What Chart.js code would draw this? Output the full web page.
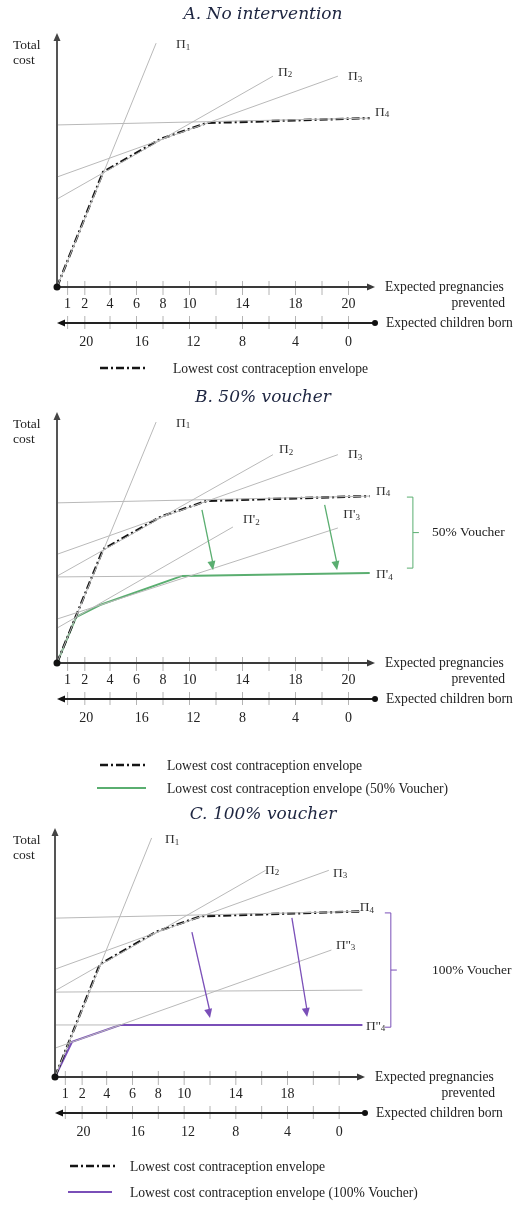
<!DOCTYPE html>
<html lang="en">
<head>
<meta charset="UTF-8">
<title>Lowest cost contraception envelope</title>
<script src="https://cdn.jsdelivr.net/npm/chart.js@4.4.0/dist/chart.umd.min.js"></script>
<style>
  html, body { margin: 0; padding: 0; background: #fff; }
  canvas { display: block; }
</style>
</head>
<body>
<canvas id="panelA" width="514" height="385"></canvas>
<canvas id="panelB" width="514" height="415"></canvas>
<canvas id="panelC" width="514" height="405"></canvas>
<script>
// tick marks shared by both bottom axes (axis units, 0..12)
const tickMarks = [0.4, 1.05, 2, 3, 4, 5, 6, 7, 8, 9, 10, 11];
const pregnancyPos = [0.4, 1.05, 2, 3, 4, 5, 7, 9, 11];
const pregnancyLabels = ['1', '2', '4', '6', '8', '10', '14', '18', '20'];
const childrenPos = [1.1, 3.2, 5.15, 7, 9, 11];
const childrenLabels = ['20', '16', '12', '8', '4', '0'];

// total cost of each method, no intervention
const pi1 = [{x: 0, y: 0}, {x: 3.74, y: 9.6}];
const pi2 = [{x: 0, y: 3.46}, {x: 8.15, y: 8.3}];
const pi3 = [{x: 0, y: 4.33}, {x: 10.6, y: 8.3}];
const pi4 = [{x: 0, y: 6.38}, {x: 11.8, y: 6.65}];
const envelope = [{x: 0, y: 0}, {x: 1.74, y: 4.53}, {x: 3.92, y: 5.83}, {x: 5.66, y: 6.46}, {x: 11.8, y: 6.65}];

// 50% voucher
const pi2Half = [{x: 0, y: 1.39}, {x: 6.64, y: 5.42}];
const pi3Half = [{x: 0, y: 1.75}, {x: 10.6, y: 5.38}];
const pi4Half = [{x: 0, y: 3.43}, {x: 4.72, y: 3.47}];
const envelopeHalf = [{x: 0, y: 0}, {x: 0.72, y: 1.83}, {x: 1.62, y: 2.31}, {x: 4.72, y: 3.47}, {x: 11.8, y: 3.59}];
const shiftHalf = [[{x: 5.47, y: 6.1}, {x: 5.89, y: 3.7}], [{x: 10.1, y: 6.3}, {x: 10.57, y: 3.7}]];

// 100% voucher
const pi4HalfFull = [{x: 0, y: 3.41}, {x: 11.9, y: 3.49}];
const pi3Free = [{x: 0, y: 1.16}, {x: 10.7, y: 5.1}];
const pi4Free = [{x: 0, y: 2.09}, {x: 2.52, y: 2.09}];
const envelopeFree = [{x: 0, y: 0}, {x: 0.66, y: 1.41}, {x: 2.52, y: 2.09}, {x: 11.9, y: 2.09}];
const shiftFree = [[{x: 5.3, y: 5.82}, {x: 6.0, y: 2.37}], [{x: 9.17, y: 6.39}, {x: 9.76, y: 2.41}]];

const GREEN = '#5aae70';
const PURPLE = '#7a4fb8';
const SERIF = '"Liberation Serif", "Times New Roman", serif';
const DASHDOT = [8, 3, 2, 3];

const gray = data => ({data, borderColor: '#b9b9b9', borderWidth: 1});
const dashDot = data => ({data, borderColor: '#151515', borderWidth: 2.4, borderDash: DASHDOT});
const solid = (data, color) => ({data, borderColor: color, borderWidth: 2});

function line(ctx, x0, y0, x1, y1) {
  ctx.beginPath(); ctx.moveTo(x0, y0); ctx.lineTo(x1, y1); ctx.stroke();
}

// filled arrow head at (x1, y1) pointing away from (x0, y0)
function head(ctx, x0, y0, x1, y1, len, half) {
  const ang = Math.atan2(y1 - y0, x1 - x0);
  ctx.beginPath();
  ctx.moveTo(x1, y1);
  ctx.lineTo(x1 - len * Math.cos(ang) + half * Math.sin(ang), y1 - len * Math.sin(ang) - half * Math.cos(ang));
  ctx.lineTo(x1 - len * Math.cos(ang) - half * Math.sin(ang), y1 - len * Math.sin(ang) + half * Math.cos(ang));
  ctx.closePath(); ctx.fill();
}

function piLabel(ctx, x, y, primes, sub) {
  ctx.fillStyle = '#333';
  ctx.textAlign = 'left'; ctx.textBaseline = 'middle';
  ctx.font = '13.5px ' + SERIF;
  const txt = '\u03A0' + primes;
  ctx.fillText(txt, x, y);
  const w = ctx.measureText(txt).width;
  ctx.font = '9px ' + SERIF;
  ctx.fillText(sub, x + w, y + 3);
}

function makeDiagram(p) {
  return {
    id: 'diagram',
    afterDatasetsDraw(chart) {
      const {ctx, chartArea: a, scales: {x, y}} = chart;
      const px = v => x.getPixelForValue(v), py = v => y.getPixelForValue(v);
      ctx.save();

      // panel heading
      ctx.font = 'italic 17px "DejaVu Serif", serif';
      ctx.fillStyle = '#1d2540';
      ctx.textAlign = 'center'; ctx.textBaseline = 'middle';
      ctx.fillText(p.title, 263, p.titleY);

      // downward shift of the envelope
      ctx.strokeStyle = p.color; ctx.fillStyle = p.color; ctx.lineWidth = 1.3;
      (p.shifts || []).forEach(([s, e]) => {
        const x0 = px(s.x), y0 = py(s.y), x1 = px(e.x), y1 = py(e.y);
        line(ctx, x0, y0, x1, y1 - 6);
        head(ctx, x0, y0, x1, y1, 9, 4);
      });

      // voucher brace
      if (p.bracket) {
        const b = p.bracket, bx = px(b.x), t = py(b.top), bt = py(b.bottom), m = (t + bt) / 2;
        ctx.lineWidth = 1;
        ctx.beginPath();
        ctx.moveTo(bx - 6, t); ctx.lineTo(bx, t); ctx.lineTo(bx, bt); ctx.lineTo(bx - 6, bt);
        ctx.moveTo(bx, m); ctx.lineTo(bx + 6, m);
        ctx.stroke();
        ctx.fillStyle = '#222'; ctx.font = '13.5px ' + SERIF;
        ctx.textAlign = 'left'; ctx.textBaseline = 'middle';
        ctx.fillText(b.text, 432, m);
      }

      p.labels.forEach(l => piLabel(ctx, px(l.x), py(l.y), l.primes || '', l.sub));

      // axes
      const ax = a.bottom, ax2 = a.bottom + 36;
      ctx.strokeStyle = '#b4b4b4'; ctx.lineWidth = 1;
      tickMarks.forEach(v => {
        line(ctx, px(v), ax - 6, px(v), ax + 8);
        line(ctx, px(v), ax2 - 7, px(v), ax2 + 6);
      });
      ctx.strokeStyle = '#555'; ctx.fillStyle = '#444'; ctx.lineWidth = 2;
      line(ctx, a.left, a.bottom, a.left, a.top + 6);
      head(ctx, a.left, a.bottom, a.left, a.top, 8, 3.5);
      ctx.strokeStyle = '#3a3a3a'; ctx.fillStyle = '#3a3a3a';
      line(ctx, a.left, ax, a.right - 6, ax);
      head(ctx, a.left, ax, a.right, ax, 8, 3.5);
      ctx.fillStyle = '#111'; ctx.strokeStyle = '#222';
      line(ctx, a.left + 6, ax2, a.right, ax2);
      head(ctx, a.right, ax2, a.left, ax2, 8, 3.5);
      ctx.beginPath(); ctx.arc(a.right, ax2, 3, 0, Math.PI * 2); ctx.fill();
      ctx.beginPath(); ctx.arc(a.left, ax, 3.5, 0, Math.PI * 2); ctx.fill();

      ctx.fillStyle = '#222';
      ctx.font = '14px ' + SERIF;
      ctx.textAlign = 'center'; ctx.textBaseline = 'middle';
      p.topLabels.forEach((t, i) => ctx.fillText(t, px(pregnancyPos[i]), ax + 17));
      childrenLabels.forEach((t, i) => ctx.fillText(t, px(childrenPos[i]), ax + 55));

      ctx.font = '13.6px ' + SERIF;
      ctx.textAlign = 'left';
      ctx.fillText('Expected pregnancies', a.right + 10, ax);
      ctx.fillText('Expected children born', a.right + 11, ax2);
      ctx.textAlign = 'right';
      ctx.fillText('prevented', a.right + 130, ax + 16);
      ctx.textAlign = 'left';
      ctx.font = '13.5px ' + SERIF;
      ctx.fillText('Total', 13, a.top + 12);
      ctx.fillText('cost', 13, a.top + 27);

      // key
      p.legend.forEach(k => {
        ctx.strokeStyle = k.color; ctx.lineWidth = k.dash ? 2.4 : 2;
        ctx.setLineDash(k.dash ? DASHDOT : []);
        line(ctx, k.x0, k.y, k.x1, k.y);
        ctx.setLineDash([]);
        ctx.fillStyle = '#222'; ctx.font = '13.6px ' + SERIF;
        ctx.fillText(k.text, k.textX, k.y + 1);
      });
      ctx.restore();
    }
  };
}

function draw(id, padding, datasets, panel) {
  new Chart(document.getElementById(id), {
    type: 'line',
    data: {datasets},
    options: {
      responsive: false,
      animation: false,
      layout: {padding},
      scales: {
        x: {type: 'linear', min: 0, max: 12, display: false},
        y: {type: 'linear', min: 0, max: 10, display: false}
      },
      elements: {point: {radius: 0}, line: {tension: 0}},
      plugins: {legend: {display: false}, tooltip: {enabled: false}}
    },
    plugins: [makeDiagram(panel)]
  });
}

const envText = 'Lowest cost contraception envelope';

draw('panelA', {left: 57, top: 33, right: 139, bottom: 98},
  [gray(pi1), gray(pi2), gray(pi3), gray(pi4), dashDot(envelope)],
  {
    title: 'A. No intervention', titleY: 15, color: '#111',
    labels: [{x: 4.49, y: 9.53, sub: '1'}, {x: 8.34, y: 8.46, sub: '2'}, {x: 10.98, y: 8.27, sub: '3'}, {x: 12.0, y: 6.89, sub: '4'}],
    topLabels: pregnancyLabels,
    legend: [{y: 368, x0: 100, x1: 148, dash: true, color: '#151515', textX: 173, text: envText}]
  });

draw('panelB', {left: 57, top: 27, right: 139, bottom: 137},
  [gray(pi1), gray(pi2), gray(pi3), gray(pi4), gray(pi2Half), gray(pi3Half), gray(pi4Half),
   dashDot(envelope), solid(envelopeHalf, GREEN)],
  {
    title: 'B. 50% voucher', titleY: 13, color: GREEN,
    shifts: shiftHalf,
    bracket: {x: 13.43, top: 6.61, bottom: 3.78, text: '50% Voucher'},
    labels: [{x: 4.49, y: 9.56, sub: '1'}, {x: 8.38, y: 8.49, sub: '2'}, {x: 10.98, y: 8.29, sub: '3'}, {x: 12.04, y: 6.85, sub: '4'},
             {x: 7.02, y: 5.7, primes: "'", sub: '2'}, {x: 10.8, y: 5.9, primes: "'", sub: '3'}, {x: 12.04, y: 3.51, primes: "'", sub: '4'}],
    topLabels: pregnancyLabels,
    legend: [{y: 380, x0: 100, x1: 148, dash: true, color: '#151515', textX: 167, text: envText},
             {y: 403, x0: 97, x1: 146, color: GREEN, textX: 167, text: envText + ' (50% Voucher)'}]
  });

draw('panelC', {left: 55, top: 28, right: 149, bottom: 128},
  [gray(pi1), gray(pi2), gray(pi3), gray(pi4), gray(pi4HalfFull), gray(pi3Free), gray(pi4Free),
   dashDot(envelope), solid(envelopeFree, PURPLE)],
  {
    title: 'C. 100% voucher', titleY: 15, color: PURPLE,
    shifts: shiftFree,
    bracket: {x: 13.0, top: 6.59, bottom: 2.0, text: '100% Voucher'},
    labels: [{x: 4.26, y: 9.52, sub: '1'}, {x: 8.13, y: 8.31, sub: '2'}, {x: 10.76, y: 8.19, sub: '3'}, {x: 11.8, y: 6.79, sub: '4'},
             {x: 10.88, y: 5.3, primes: "''", sub: '3'}, {x: 12.04, y: 2.05, primes: "''", sub: '4'}],
    topLabels: pregnancyLabels.slice(0, 8),
    legend: [{y: 366, x0: 70, x1: 116, dash: true, color: '#151515', textX: 130, text: envText},
             {y: 392, x0: 68, x1: 112, color: PURPLE, textX: 130, text: envText + ' (100% Voucher)'}]
  });
</script>
</body>
</html>
